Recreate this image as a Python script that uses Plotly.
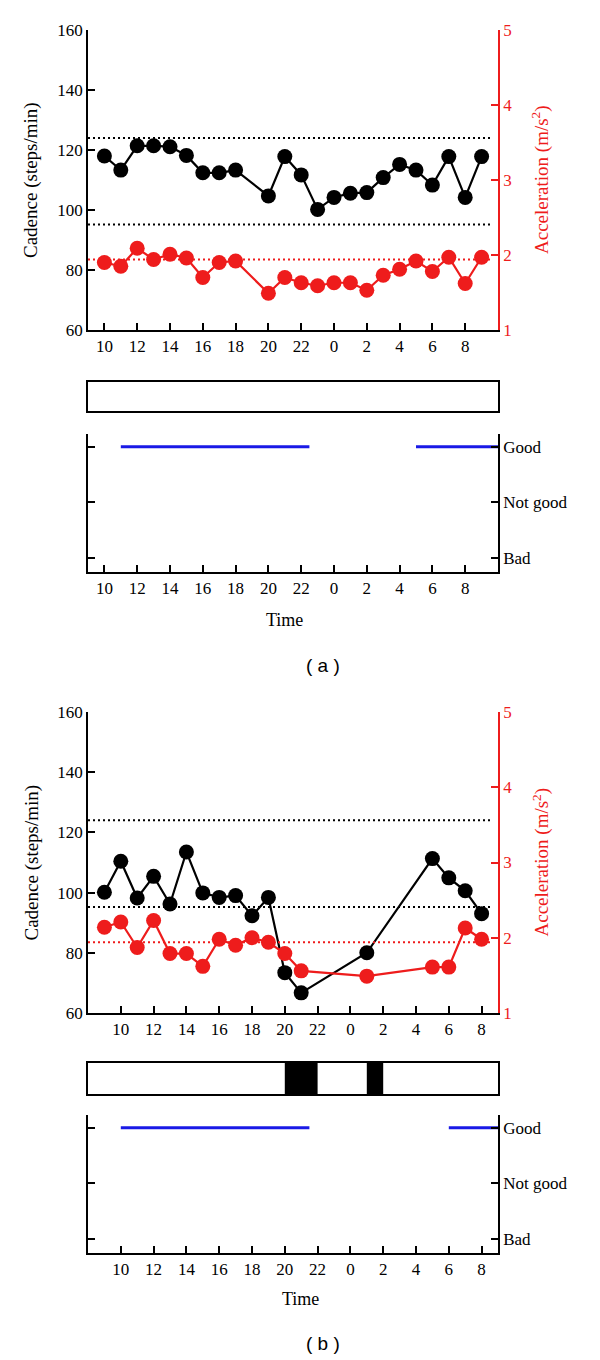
import plotly.graph_objects as go

# ---------------- data ----------------
tick_hours = [10, 12, 14, 16, 18, 20, 22, 0, 2, 4, 6, 8]

# Panel (a)
hours_a = [10, 11, 12, 13, 14, 15, 16, 17, 18, 20, 21, 22, 23, 0, 1, 2, 3, 4, 5, 6, 7, 8, 9]
cadence_a = [118.0, 113.3, 121.4, 121.4, 121.1, 118.2, 112.4, 112.4, 113.3, 104.7, 117.8, 111.7,
             100.2, 104.2, 105.6, 105.8, 110.8, 115.2, 113.3, 108.3, 117.8, 104.2, 117.8]
accel_a = [1.90, 1.85, 2.09, 1.94, 2.01, 1.96, 1.70, 1.90, 1.92, 1.49, 1.70, 1.63,
           1.59, 1.63, 1.63, 1.53, 1.73, 1.81, 1.92, 1.78, 1.97, 1.62, 1.97]
sleep_a = []                          # (start hour, end hour)
mood_a = [(11, 22.5, 2), (5, 10, 2)]  # (start hour, end hour, level) 0=Bad 1=Not good 2=Good

# Panel (b)
hours_b = [9, 10, 11, 12, 13, 14, 15, 16, 17, 18, 19, 20, 21, 1, 5, 6, 7, 8]
cadence_b = [100.1, 110.4, 98.2, 105.4, 96.2, 113.5, 99.9, 98.4, 99.0, 92.3, 98.4, 73.4,
             66.7, 80.0, 111.3, 104.9, 100.6, 93.0]
accel_b = [2.14, 2.21, 1.87, 2.23, 1.79, 1.79, 1.62, 1.98, 1.90, 2.00, 1.94, 1.79,
           1.56, 1.49, 1.61, 1.61, 2.13, 1.98]
sleep_b = [(20, 22), (1, 2)]
mood_b = [(10, 21.5, 2), (6, 9, 2)]

cadence_upper = 124.0
cadence_lower = 95.2
accel_ref = 1.94

mood_labels = ["Bad", "Not good", "Good"]

# ---------------- helpers ----------------
W, H = 600, 1360
SERIF = "Liberation Serif"
RED = "#ee1c1c"
BLUE = "#1a1ae6"


def cont(h, day_start):
    """hour of day -> continuous hour on the panel's time axis (start of an interval/point)"""
    return h if h >= day_start else h + 24


def cont_end(h, day_start):
    """hour of day -> continuous hour for the end of an interval"""
    return h if h > day_start else h + 24


def ydom(top_px, bot_px):
    return [1 - bot_px / H, 1 - top_px / H]


def nm(prefix, k):
    return prefix if k == 1 else f"{prefix}{k}"


XDOM = [88 / W, 498 / W]

fig = go.Figure()
layout = dict(width=W, height=H, margin=dict(l=0, r=0, t=0, b=0, pad=0, autoexpand=False),
              paper_bgcolor="white", plot_bgcolor="rgba(0,0,0,0)",
              showlegend=False, shapes=[], annotations=[])

tick_font = dict(family=SERIF, size=17, color="black")


def xaxis_def(rng, anchor, day_start):
    return dict(domain=XDOM, range=rng, anchor=anchor, automargin=False,
                tickvals=[cont(h, day_start) for h in tick_hours],
                ticktext=[str(h) for h in tick_hours],
                ticks="inside", ticklen=7, tickwidth=1.5, tickcolor="black",
                showline=True, linecolor="black", linewidth=1.5,
                showgrid=False, zeroline=False, tickfont=tick_font)


panels = [
    dict(name="a", hours=hours_a, cad=cadence_a, acc=accel_a, sleep=sleep_a, mood=mood_a,
         day_start=10, rng=[9, 34],
         chart=(30, 330), bar=(382, 411), moodpx=(434, 572), label_y=665, time_y=620,
         time_x=284, lab_x=323, xn=1, yn=1),
    dict(name="b", hours=hours_b, cad=cadence_b, acc=accel_b, sleep=sleep_b, mood=mood_b,
         day_start=9, rng=[8, 33],
         chart=(712, 1013), bar=(1063, 1094), moodpx=(1115, 1253), label_y=1343, time_y=1299,
         time_x=300, lab_x=323, xn=4, yn=5),
]

for p in panels:
    xa, xb, xm = p["xn"], p["xn"] + 1, p["xn"] + 2
    ya, ya2, yb, ym = p["yn"], p["yn"] + 1, p["yn"] + 2, p["yn"] + 3
    ds = p["day_start"]

    xs = [cont(h, ds) for h in p["hours"]]

    # --- chart axes ---
    layout[nm("xaxis", xa)] = xaxis_def(p["rng"], nm("y", ya), ds)
    layout[nm("yaxis", ya)] = dict(domain=ydom(*p["chart"]), range=[60, 160], anchor=nm("x", xa),
                                   automargin=False, tickvals=[60, 80, 100, 120, 140, 160],
                                   ticks="inside", ticklen=7, tickwidth=1.5, tickcolor="black",
                                   showline=True, linecolor="black", linewidth=1.5,
                                   showgrid=False, zeroline=False, tickfont=tick_font)
    layout[nm("yaxis", ya2)] = dict(overlaying=nm("y", ya), side="right", range=[1, 5],
                                    anchor=nm("x", xa), automargin=False, tickvals=[1, 2, 3, 4, 5],
                                    ticks="inside", ticklen=7, tickwidth=1.5, tickcolor=RED,
                                    showline=True, linecolor=RED, linewidth=1.5,
                                    showgrid=False, zeroline=False,
                                    tickfont=dict(family=SERIF, size=17, color=RED))

    # reference dotted lines
    for v in (cadence_upper, cadence_lower):
        layout["shapes"].append(dict(type="line", xref=nm("x", xa) + " domain", yref=nm("y", ya),
                                     x0=0, x1=0.985, y0=v, y1=v,
                                     line=dict(color="black", width=2, dash="2px,3px")))
    layout["shapes"].append(dict(type="line", xref=nm("x", xa) + " domain", yref=nm("y", ya2),
                                 x0=0, x1=0.985, y0=accel_ref, y1=accel_ref,
                                 line=dict(color=RED, width=2, dash="2px,3px")))

    fig.add_trace(go.Scatter(x=xs, y=p["acc"], mode="lines+markers",
                             xaxis=nm("x", xa), yaxis=nm("y", ya2),
                             line=dict(color=RED, width=2.2),
                             marker=dict(color=RED, size=15), cliponaxis=False))
    fig.add_trace(go.Scatter(x=xs, y=p["cad"], mode="lines+markers",
                             xaxis=nm("x", xa), yaxis=nm("y", ya),
                             line=dict(color="black", width=2.2),
                             marker=dict(color="black", size=15), cliponaxis=False))

    # --- sleep bar ---
    layout[nm("xaxis", xb)] = dict(domain=XDOM, range=p["rng"], anchor=nm("y", yb), automargin=False,
                                   showticklabels=False, ticks="", showline=True, mirror=True,
                                   linecolor="black", linewidth=1.8, showgrid=False, zeroline=False)
    layout[nm("yaxis", yb)] = dict(domain=ydom(*p["bar"]), range=[-0.5, 0.5], anchor=nm("x", xb),
                                   automargin=False,
                                   showticklabels=False, ticks="", showline=True, mirror=True,
                                   linecolor="black", linewidth=1.8, showgrid=False, zeroline=False)
    starts = [cont(s, ds) for s, e in p["sleep"]]
    durs = [cont_end(e, ds) - cont(s, ds) for s, e in p["sleep"]]
    fig.add_trace(go.Bar(x=durs if durs else [0], base=starts if starts else [p["rng"][0]],
                         y=[0] * max(1, len(starts)), orientation="h",
                         width=1, marker=dict(color="black", line=dict(width=0)),
                         xaxis=nm("x", xb), yaxis=nm("y", yb)))

    # --- mood panel ---
    layout[nm("xaxis", xm)] = xaxis_def(p["rng"], nm("y", ym), ds)
    layout[nm("yaxis", ym)] = dict(domain=ydom(*p["moodpx"]), range=[-0.25, 2.23], anchor=nm("x", xm),
                                   automargin=False,
                                   side="right", tickvals=[0, 1, 2], ticktext=mood_labels,
                                   ticks="inside", ticklen=7, tickwidth=1.5, tickcolor="black",
                                   showline=True, mirror="ticks", linecolor="black", linewidth=1.5,
                                   showgrid=False, zeroline=False, tickfont=tick_font)
    mx, my = [], []
    for s, e, lvl in p["mood"]:
        mx += [cont(s, ds), cont_end(e, ds), None]
        my += [lvl, lvl, None]
    fig.add_trace(go.Scatter(x=mx, y=my, mode="lines", line=dict(color=BLUE, width=3),
                             xaxis=nm("x", xm), yaxis=nm("y", ym), cliponaxis=False))

    # --- titles ---
    cy = (p["chart"][0] + p["chart"][1]) / 2
    layout["annotations"] += [
        dict(text="Cadence (steps/min)", x=31 / W, y=1 - cy / H, xref="paper", yref="paper",
             textangle=-90, showarrow=False, font=dict(family=SERIF, size=19, color="black"),
             xanchor="center", yanchor="middle"),
        dict(text="Acceleration (m/s<sup>2</sup>)", x=541 / W, y=1 - cy / H, xref="paper",
             yref="paper", textangle=-90, showarrow=False,
             font=dict(family=SERIF, size=19, color=RED), xanchor="center", yanchor="middle"),
        dict(text="Time", x=p["time_x"] / W, y=1 - p["time_y"] / H, xref="paper", yref="paper",
             showarrow=False, font=dict(family=SERIF, size=18, color="black"),
             xanchor="center", yanchor="middle"),
        dict(text="( " + p["name"] + " )", x=p["lab_x"] / W, y=1 - p["label_y"] / H, xref="paper",
             yref="paper", showarrow=False, font=dict(family="Liberation Sans", size=19, color="black"),
             xanchor="center", yanchor="middle"),
    ]

fig.update_layout(**layout)
fig.write_html("out.html", config={"displayModeBar": False},
               post_script="document.body.style.margin='0';document.body.style.overflow='hidden';")
